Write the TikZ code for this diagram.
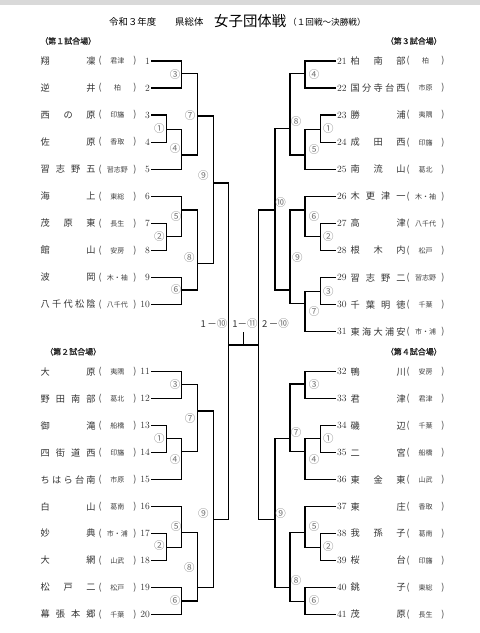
\documentclass[tikz,border=0pt]{standalone}
\usepackage{fontspec}
\newfontfamily\jp{Noto Sans CJK JP}
\newfontfamily\jpb[FakeBold=1.5]{Noto Sans CJK JP}
\newcommand\spreadname[2]{\makebox[#1][s]{\expandafter\spreadloop#2\relax\unskip}}
\def\spreadloop#1{\ifx\relax#1\else#1\hfil\expandafter\spreadloop\fi}
\newcommand\schoolbox[1]{\makebox[38pt]{(\hfill{\fontsize{7}{8}\selectfont#1}\hfill)}}
\begin{document}
\begin{tikzpicture}[x=1pt, y=-1pt,
    team/.style={anchor=west, inner sep=0pt, text=black!80, font=\jp\fontsize{9.2}{10}\selectfont},
    school/.style={inner sep=0pt, text=black!75, font=\jp\fontsize{9}{10}\selectfont},
    seed/.style={inner sep=1pt, text=black!80, font=\fontsize{9.5}{10}\selectfont},
    rnd/.style={inner sep=0pt, text=black!55, font=\jp\fontsize{10.5}{11}\selectfont},
    heading/.style={inner sep=0pt, text=black!85, font=\jpb\fontsize{8}{9}\selectfont},
    line/.style={draw, line width=1.3pt}
]
    \useasboundingbox (0,0) rectangle (480,633);
    \fill[black!15] (0,0) rectangle (480,5);

    \node[anchor=west, inner sep=0pt, font=\jp\fontsize{9.4}{10}\selectfont] (ttla) at (109,21.5) {令和３年度};
    \node[anchor=west, inner sep=0pt, font=\jp\fontsize{9.4}{10}\selectfont] (ttlb) at (175,21.5) {県総体};
    \node[anchor=west, inner sep=0pt, font=\jp\fontsize{14.4}{15}\selectfont] (ttlc) at (214,20.8) {女子団体戦};
    \node[anchor=west, inner sep=0pt, font=\jp\fontsize{8.6}{9}\selectfont] (ttld) at (288,22.3) {（１回戦～決勝戦）};

    \node[heading, anchor=west] (hd1) at (40,41) {（第１試合場）};
    \node[heading, anchor=east] (hd3) at (442,41) {（第３試合場）};
    \node[heading, anchor=west] (hd2) at (45,351.7) {（第２試合場）};
    \node[heading, anchor=east] (hd4) at (442,351.7) {（第４試合場）};

    \foreach \nm/\sc [count=\i] in {翔凜/君津, 逆井/柏, 西の原/印旛, 佐原/香取, 習志野五/習志野,
        海上/東総, 茂原東/長生, 館山/安房, 波岡/木・袖, 八千代松陰/八千代} {
        \pgfmathsetmacro\y{61+27.05*(\i-1)}
        \node[team] (tm\i) at (40.5,\y) {\spreadname{55pt}{\nm}};
        \node[school] (sc\i) at (117.5,\y) {\schoolbox{\sc}};
        \node[seed, anchor=east] (n\i) at (151,\y) {\i};
    }
    \foreach \nm/\sc [count=\i from 11] in {大原/夷隅, 野田南部/葛北, 御滝/船橋, 四街道西/印旛, ちはら台南/市原,
        白山/葛南, 妙典/市・浦, 大網/山武, 松戸二/松戸, 幕張本郷/千葉} {
        \pgfmathsetmacro\y{371.7+26.96*(\i-11)}
        \node[team] (tm\i) at (40.5,\y) {\spreadname{55pt}{\nm}};
        \node[school] (sc\i) at (117.5,\y) {\schoolbox{\sc}};
        \node[seed, anchor=east] (n\i) at (151,\y) {\i};
    }
    \foreach \nm/\sc [count=\i from 21] in {柏南部/柏, 国分寺台西/市原, 勝浦/夷隅, 成田西/印旛, 南流山/葛北,
        木更津一/木・袖, 高津/八千代, 根木内/松戸, 習志野二/習志野, 千葉明徳/千葉, 東海大浦安/市・浦} {
        \pgfmathsetmacro\y{61+27.07*(\i-21)}
        \node[seed, anchor=west] (n\i) at (336,\y) {\i};
        \node[team] (tm\i) at (350.5,\y) {\spreadname{55pt}{\nm}};
        \node[school] (sc\i) at (425.5,\y) {\schoolbox{\sc}};
    }
    \foreach \nm/\sc [count=\i from 32] in {鴨川/安房, 君津/君津, 磯辺/千葉, 二宮/船橋, 東金東/山武,
        東庄/香取, 我孫子/葛南, 桜台/印旛, 銚子/東総, 茂原/長生} {
        \pgfmathsetmacro\y{371.7+26.96*(\i-32)}
        \node[seed, anchor=west] (n\i) at (336,\y) {\i};
        \node[team] (tm\i) at (350.5,\y) {\spreadname{55pt}{\nm}};
        \node[school] (sc\i) at (425.5,\y) {\schoolbox{\sc}};
    }

    \coordinate (A3) at (181.7,73.3);  \coordinate (A1) at (166.7,129.3);
    \coordinate (A4) at (181.7,155);   \coordinate (A7) at (197.3,116);
    \coordinate (A5) at (181.7,210);   \coordinate (A2) at (166.7,236.7);
    \coordinate (A6) at (181.7,290);   \coordinate (A8) at (197.3,263.3);
    \coordinate (A9) at (213.3,183);
    \coordinate (B3) at (181.7,384.3); \coordinate (B1) at (166.7,438.3);
    \coordinate (B4) at (181.7,451.7); \coordinate (B7) at (197.3,411);
    \coordinate (B5) at (181.7,532.7); \coordinate (B2) at (166.7,547.3);
    \coordinate (B6) at (181.7,601);   \coordinate (B8) at (197.3,587.3);
    \coordinate (B9) at (213.3,519.3);
    \coordinate (C4) at (305,73.3);    \coordinate (C1) at (320.7,129.3);
    \coordinate (C5) at (305,155);     \coordinate (C8) at (290,128.3);
    \coordinate (C6) at (305,210);     \coordinate (C2) at (320.7,236.7);
    \coordinate (C3) at (320.7,291.7); \coordinate (C7) at (305,303.3);
    \coordinate (C9) at (290,290);     \coordinate (C10) at (275,210);
    \coordinate (D3) at (305,384);     \coordinate (D1) at (320.7,438.3);
    \coordinate (D4) at (305,451.7);   \coordinate (D7) at (290,438.3);
    \coordinate (D5) at (305,532.7);   \coordinate (D2) at (320.7,547.3);
    \coordinate (D6) at (305,601.7);   \coordinate (D8) at (290,587.3);
    \coordinate (D9) at (275,519.3);
    \coordinate (L10) at (228.3,345);  \coordinate (R10) at (258.3,345);
    \coordinate (fin) at (243.3,345);  \coordinate (champ) at (243.3,332);

    \foreach \a/\m/\b in {n1.east/A3/n2.east, n3.east/A1/n4.east, A1/A4/n5.east, A3/A7/A4,
        n6.east/A5/A2, n7.east/A2/n8.east, n9.east/A6/n10.east, A5/A8/A6, A7/A9/A8,
        n11.east/B3/n12.east, n13.east/B1/n14.east, B1/B4/n15.east, B3/B7/B4,
        n16.east/B5/B2, n17.east/B2/n18.east, n19.east/B6/n20.east, B5/B8/B6, B7/B9/B8,
        n21.west/C4/n22.west, n23.west/C1/n24.west, C1/C5/n25.west, C4/C8/C5,
        n26.west/C6/C2, n27.west/C2/n28.west, n29.west/C3/n30.west, C3/C7/n31.west,
        C6/C9/C7, C8/C10/C9,
        n32.west/D3/n33.west, n34.west/D1/n35.west, D1/D4/n36.west, D3/D7/D4,
        n37.west/D5/D2, n38.west/D2/n39.west, n40.west/D6/n41.west, D5/D8/D6, D7/D9/D8,
        A9/L10/B9, C10/R10/D9}
        \draw[line] (\a) -| (\m) |- (\b);
    \draw[line] (L10) -- (R10);
    \draw[line] (fin) -- (champ);

    \foreach \lb/\x/\y [count=\k] in {③/175/74.3, ①/159.3/128.3, ④/175/149, ⑦/190/116, ⑨/203.3/176,
        ⑤/176/216.7, ②/159.3/236.7, ⑧/189.3/257.3, ⑥/176/290}
        \node[rnd] (ra\k) at (\x,\y) {\lb};
    \foreach \lb/\x/\y [count=\k] in {③/175/385, ⑦/190/418.3, ①/159.3/438.3, ④/175/459.3, ⑨/203.3/513.3,
        ⑤/176/526.7, ②/159.3/546, ⑧/189.3/567.7, ⑥/175/600.7}
        \node[rnd] (rb\k) at (\x,\y) {\lb};
    \foreach \lb/\x/\y [count=\k] in {④/314/74.3, ①/328.3/128.3, ⑤/314/149.3, ⑧/296/121.7, ⑩/280.7/202.7,
        ⑥/314/216.7, ②/328.3/236.7, ⑨/297.3/257.3, ③/328.3/291.7, ⑦/314/311.7}
        \node[rnd] (rc\k) at (\x,\y) {\lb};
    \foreach \lb/\x/\y [count=\k] in {③/314/384.3, ①/328.3/438.3, ④/314/459.3, ⑦/296/432.7, ⑨/280.7/513.3,
        ⑤/314/526.7, ②/328.3/546.7, ⑧/296/580.7, ⑥/314/600.7}
        \node[rnd] (rd\k) at (\x,\y) {\lb};

    \node[rnd] (fa) at (214,324) {\textcolor{black!80}{\fontsize{9.5}{10}\selectfont 1\,－}⑩};
    \node[rnd] (fb) at (245,324) {\textcolor{black!80}{\fontsize{9.5}{10}\selectfont 1－}⑪};
    \node[rnd] (fc) at (275.5,324) {\textcolor{black!80}{\fontsize{9.5}{10}\selectfont 2\,－}⑩};
\end{tikzpicture}
\end{document}
